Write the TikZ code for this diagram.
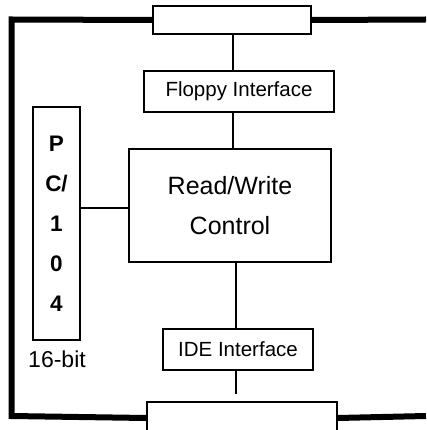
\documentclass[tikz,border=0pt]{standalone}
\usepackage{fontspec}
\setmainfont{Liberation Sans}
\begin{document}
\begin{tikzpicture}[x=1pt,y=-1pt,
  box/.style={draw=black, line width=1.1pt, fill=white, inner sep=0pt},
  thin/.style={draw=black, line width=1.1pt},
  bus/.style={draw=black, line width=6pt, line join=miter},
  lbl/.style={font=\fontsize{20.5}{24}\selectfont}]
\useasboundingbox (0,0) rectangle (426,430);
\coordinate (tr) at (426,19.5);
\coordinate (tl) at (11.5,19.5);
\coordinate (bl) at (11.5,416);
\coordinate (br) at (426,416);
\node[box, minimum width=158pt, minimum height=28pt] (topbox) at (232,20) {};
\node[box, minimum width=190pt, minimum height=32pt] (botbox) at (242,418) {};
\node[box, lbl, minimum width=190pt, minimum height=41pt] (floppy) at (239,91.5) {Floppy Interface};
\node[box, minimum width=202pt, minimum height=113pt, align=center,
      font=\fontsize{25}{40}\selectfont] (rw) at (230,205.5) {Read/Write\\Control};
\node[box, minimum width=47pt, minimum height=233pt, align=center,
      font=\fontsize{22.5}{40}\selectfont\bfseries] (pc) at (56.5,223.5) {P\\C/\\1\\0\\4};
\node[box, lbl, minimum width=150pt, minimum height=41pt] (ide) at (238,349.5) {IDE Interface};
\node[font=\fontsize{23}{26}\selectfont] (bits) at (57,359) {16-bit};
\coordinate (ideend) at (236,394);
\draw[bus] (tr) -- (topbox.east);
\draw[bus] (topbox.west) -- (tl) -- (bl) -- (botbox.west);
\draw[bus] (botbox.east) -- (br);
\node[box, minimum width=158pt, minimum height=28pt] at (topbox) {};
\node[box, minimum width=190pt, minimum height=32pt] at (botbox) {};
\draw[thin] (topbox.south -| 233,0) -- (floppy.north -| 233,0);
\draw[thin] (floppy.south -| 233,0) -- (rw.north -| 233,0);
\draw[thin] (rw.south -| ideend) -- (ide.north -| ideend);
\draw[thin] (ide.south -| ideend) -- (ideend);
\draw[thin] (pc.east |- 0,208) -- (rw.west |- 0,208);
\end{tikzpicture}
\end{document}
